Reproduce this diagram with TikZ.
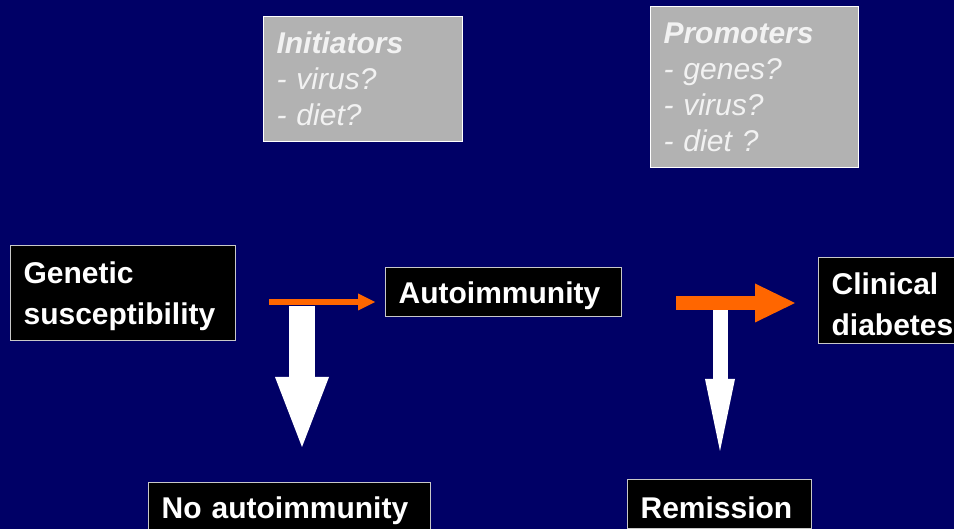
\documentclass[tikz,border=0pt]{standalone}
\usepackage{fontspec}
\setmainfont{Liberation Sans}
\usetikzlibrary{arrows.meta}

\definecolor{navy}{RGB}{0,0,102}
\definecolor{panelgray}{RGB}{178,178,178}
\definecolor{paletext}{RGB}{242,242,242}
\definecolor{edgegray}{RGB}{200,200,200}
\definecolor{hotorange}{RGB}{255,102,0}

\tikzset{
  darkbox/.style={draw=edgegray, line width=1.2pt, fill=black, text=white,
    font=\bfseries\fontsize{30}{41}\selectfont, align=left, anchor=north west,
    inner xsep=13pt, inner ysep=0pt, execute at begin node={\rule{0pt}{29pt}}},
  greybox/.style={draw=white, line width=1pt, fill=panelgray, text=paletext,
    font=\itshape\fontsize{30}{36}\selectfont, align=left, anchor=north west,
    inner xsep=13pt, inner ysep=0pt},
  flow/.style={hotorange},
  fate/.style={white}
}

\begin{document}
\begin{tikzpicture}[x=1pt, y=-1pt]
    \useasboundingbox (0,0) rectangle (954,529);
    \clip (0,0) rectangle (954,529);
    \fill [navy] (0,0) rectangle (954,529);

    % factors
    \node [greybox, text width=173pt, minimum height=125pt] (init) at (263,16) {\textbf{Initiators}\\- virus?\\- diet?};
    \node [greybox, text width=182pt, minimum height=161pt] (prom) at (650,6) {\textbf{Promoters}\\- genes?\\- virus?\\- diet ?};

    % stages
    \node [darkbox, text width=199pt, minimum height=95pt] (gen) at (10,245) {Genetic\\susceptibility};
    \node [darkbox, text width=210pt, minimum height=49pt] (auto) at (385,267) {Autoimmunity};
    \node [darkbox, text width=150pt, minimum height=86pt] (clin) at (818,257) {Clinical\\diabetes};
    \node [darkbox, text width=256pt, minimum height=49pt] (noauto) at (148,482) {No autoimmunity};
    \node [darkbox, text width=158pt, minimum height=49pt] (rem) at (627,479) {Remission};

    \coordinate (a1) at (269,302);
    \coordinate (a2) at (375,302);
    \coordinate (b1) at (676,303);
    \coordinate (b2) at (795,303);
    \coordinate (c1) at (302,306);
    \coordinate (c2) at (302,447);
    \coordinate (d1) at (720,310);
    \coordinate (d2) at (720,451);

    \draw [fate, line width=26pt, -{Triangle[length=70pt, width=54pt, line width=0pt]}] (c1) -- (c2);
    \draw [fate, line width=15pt, -{Triangle[length=72pt, width=30pt, line width=0pt]}] (d1) -- (d2);
    \draw [flow, line width=6pt, -{Triangle[length=17pt, width=17pt, line width=0pt]}] (a1) -- (a2);
    \draw [flow, line width=14pt, -{Triangle[length=40pt, width=39pt, line width=0pt]}] (b1) -- (b2);
\end{tikzpicture}
\end{document}
